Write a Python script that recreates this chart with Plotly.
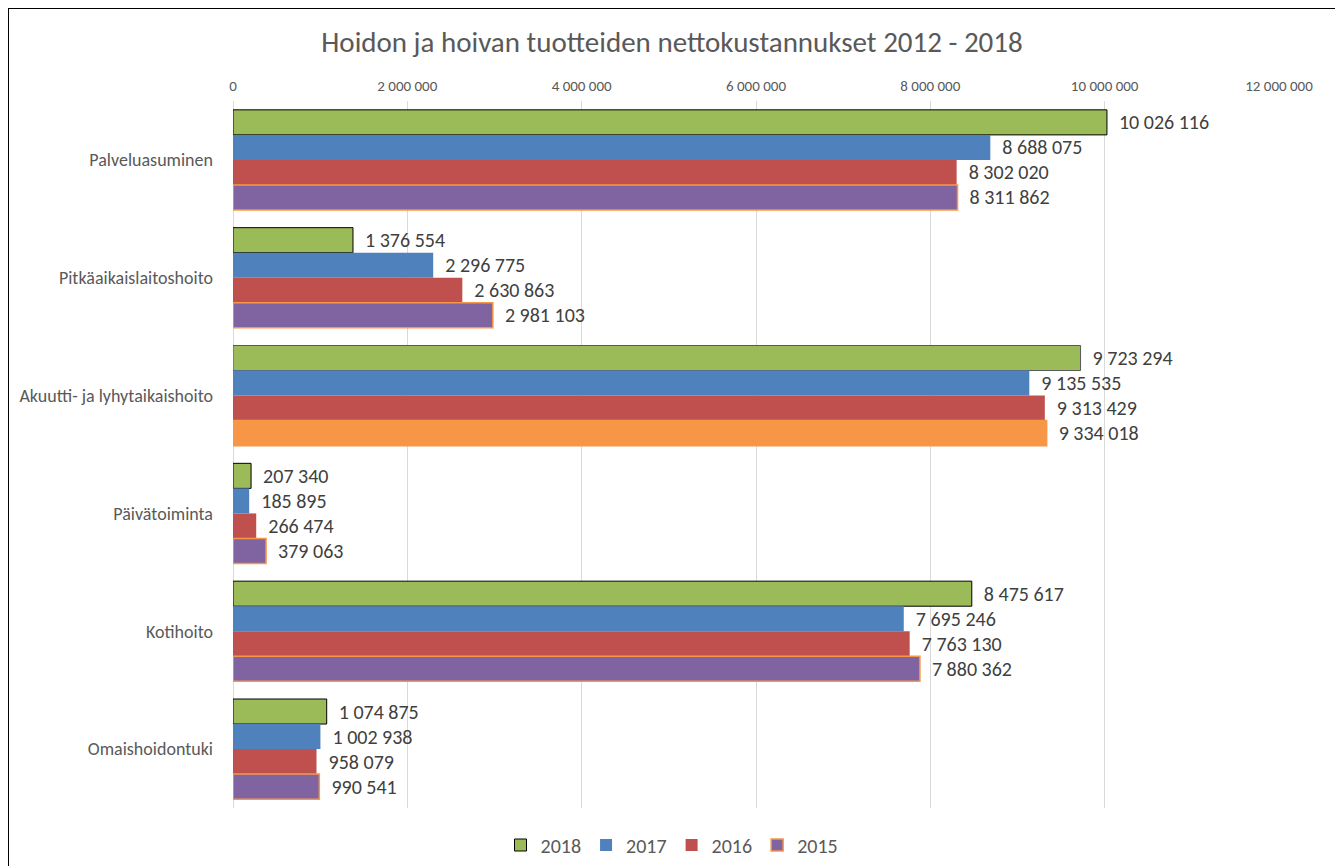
import plotly.graph_objects as go

categories = ["Palveluasuminen", "Pitkäaikaislaitoshoito", "Akuutti- ja lyhytaikaishoito",
              "Päivätoiminta", "Kotihoito", "Omaishoidontuki"]
years = ["2018", "2017", "2016", "2015"]
v2018 = [10026116, 1376554, 9723294, 207340, 8475617, 1074875]
v2017 = [8688075, 2296775, 9135535, 185895, 7695246, 1002938]
v2016 = [8302020, 2630863, 9313429, 266474, 7763130, 958079]
v2015 = [8311862, 2981103, 9334018, 379063, 7880362, 990541]
tick_vals = [0, 2000000, 4000000, 6000000, 8000000, 10000000, 12000000]

GREEN, BLUE, RED, PURPLE, ORANGE = "#9BBB59", "#4F81BD", "#C0504D", "#8064A2", "#F79646"

def fmt(v):
    return "\u00a0\u00a0" + f"{v:,}".replace(",", " ")

series = [
    ("2018", v2018, [GREEN] * 6, ["#000000", "#000000", "#595959", "#000000", "#000000", "#000000"], 1),
    ("2017", v2017, [BLUE] * 6, [BLUE] * 6, 0),
    ("2016", v2016, [RED] * 6, [RED] * 6, 0),
    ("2015", v2015, [PURPLE, PURPLE, ORANGE, PURPLE, PURPLE, PURPLE], [ORANGE] * 6, 1.5),
]

# page is offset by the browser's 8px body margin
OFF = 8
W, H = 1335, 858
L, T = 233 - OFF, 101 - OFF
R = W + OFF - 1279
B = H + OFF - 808
PW, PH = W - L - R, H - T - B

fig = go.Figure()
for name, vals, fills, lines, lw in series:
    fig.add_trace(go.Bar(
        name=name, y=categories, x=vals, orientation="h",
        marker=dict(color=fills, line=dict(color=lines, width=lw)),
        text=[fmt(v) for v in vals], textposition="outside",
        textfont=dict(size=20, color="#404040"), cliponaxis=False,
        hoverinfo="x+name",
    ))

def px(xs):
    return (xs - 233) / PW

def py(ys):
    return (808 - ys) / PH

border = dict(type="line", xref="paper", yref="paper", layer="above",
              line=dict(color="#000000", width=2))
shapes = [
    dict(border, x0=px(8), x1=px(8), y0=py(8), y1=py(880)),
    dict(border, x0=px(1336), x1=px(1336), y0=py(8), y1=py(880)),
    dict(border, x0=px(8), x1=px(1336), y0=py(8), y1=py(8)),
]

font_family = "Carlito, Calibri, 'Liberation Sans', 'Open Sans', sans-serif"
fig.update_layout(
    width=W, height=H,
    barmode="group", bargap=0.15, bargroupgap=0,
    paper_bgcolor="white", plot_bgcolor="white",
    margin=dict(l=L, r=R, t=T, b=B, autoexpand=False),
    separators=", ",
    font=dict(family=font_family, color="#595959"),
    title=dict(text="Hoidon ja hoivan tuotteiden nettokustannukset 2012 - 2018",
               xref="container", x=(672 - OFF) / W, xanchor="center",
               yref="container", y=1 - (42 - OFF) / H, yanchor="middle",
               font=dict(size=29, color="#595959")),
    xaxis=dict(side="top", range=[0, 12000000], tickvals=tick_vals, tickformat=",d",
               showgrid=True, gridcolor="#D9D9D9", gridwidth=1, zeroline=True,
               zerolinecolor="#D9D9D9", zerolinewidth=1, showline=False,
               tickfont=dict(size=15, color="#595959"), ticks="", ticklabelstandoff=6),
    yaxis=dict(autorange="reversed", showgrid=False, showline=False, ticks="",
               tickfont=dict(size=18, color="#595959"), ticklabelstandoff=19),
    legend=dict(orientation="h", xref="container", x=(672 - OFF) / W, xanchor="center",
                yref="container", y=1 - (845 - OFF) / H, yanchor="middle",
                font=dict(size=20, color="#595959"), itemwidth=30, traceorder="normal"),
    showlegend=True,
    shapes=shapes,
)

fig.write_html("out.html")
